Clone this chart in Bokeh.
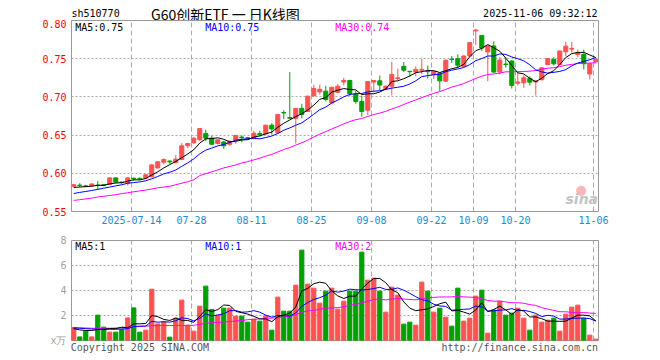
import numpy as np
import pandas as pd
from bokeh.plotting import figure
from bokeh.models import Range1d, FixedTicker, Label, ColumnDataSource, PrintfTickFormatter
from bokeh.layouts import column
from bokeh.embed import file_html
from bokeh.resources import INLINE

# ---------------- data ----------------
tick_index = [10, 20, 30, 40, 50, 60, 67, 74, 87]
tick_labels = ["2025-07-14", "07-28", "08-11", "08-25", "09-08", "09-22", "10-09", "10-20", "11-06"]

opens = [
    0.583, 0.5845, 0.5835, 0.584, 0.5845, 0.585, 0.5855, 0.594, 0.5885, 0.587,
    0.5935, 0.5935, 0.5935, 0.5955, 0.607, 0.6145, 0.616, 0.614, 0.618, 0.636,
    0.640, 0.644, 0.652, 0.646, 0.639, 0.641, 0.638, 0.6435, 0.6475, 0.6465,
    0.6455, 0.652, 0.6515, 0.663, 0.653, 0.6795, 0.673, 0.672, 0.685, 0.681,
    0.7015, 0.7065, 0.7075, 0.692, 0.706, 0.7195, 0.7215, 0.704, 0.694, 0.6825,
    0.7195, 0.721, 0.711, 0.714, 0.724, 0.740, 0.7335, 0.7325, 0.735, 0.7335,
    0.729, 0.731, 0.7206, 0.7495, 0.750, 0.740, 0.7535, 0.7865, 0.7805, 0.7588,
    0.7667, 0.7325, 0.743, 0.747, 0.718, 0.7185, 0.7241, 0.7195, 0.7225, 0.7424,
    0.749, 0.7424, 0.759, 0.7625, 0.7555, 0.7555, 0.730, 0.746]
highs = [
    0.586, 0.587, 0.585, 0.587, 0.590, 0.586, 0.595, 0.5945, 0.589, 0.595,
    0.5945, 0.5945, 0.599, 0.612, 0.616, 0.6195, 0.617, 0.624, 0.6395, 0.640,
    0.647, 0.659, 0.657, 0.649, 0.6445, 0.6425, 0.6425, 0.6505, 0.6495, 0.6475,
    0.6555, 0.6555, 0.6635, 0.6655, 0.6775, 0.6825, 0.7325, 0.6855, 0.691, 0.7015,
    0.716, 0.716, 0.7145, 0.7135, 0.717, 0.725, 0.7225, 0.708, 0.7015, 0.721,
    0.7215, 0.728, 0.7145, 0.746, 0.737, 0.7455, 0.734, 0.740, 0.750, 0.741,
    0.7335, 0.732, 0.749, 0.7535, 0.7555, 0.7545, 0.772, 0.789, 0.781, 0.767,
    0.7728, 0.752, 0.752, 0.748, 0.7316, 0.7285, 0.727, 0.722, 0.739, 0.751,
    0.752, 0.7605, 0.772, 0.772, 0.762, 0.762, 0.7445, 0.7515]
lows = [
    0.582, 0.582, 0.582, 0.583, 0.578, 0.583, 0.5845, 0.587, 0.586, 0.584,
    0.590, 0.591, 0.593, 0.5945, 0.6065, 0.612, 0.6125, 0.613, 0.617, 0.633,
    0.6385, 0.6425, 0.642, 0.6375, 0.6375, 0.632, 0.636, 0.6385, 0.6405, 0.6445,
    0.6445, 0.648, 0.650, 0.6505, 0.652, 0.671, 0.6715, 0.639, 0.672, 0.680,
    0.700, 0.703, 0.694, 0.691, 0.705, 0.715, 0.701, 0.691, 0.674, 0.676,
    0.706, 0.709, 0.709, 0.702, 0.722, 0.7325, 0.727, 0.727, 0.730, 0.724,
    0.7235, 0.7075, 0.720, 0.7445, 0.739, 0.739, 0.7525, 0.768, 0.760, 0.7206,
    0.7315, 0.7294, 0.7382, 0.711, 0.715, 0.7118, 0.715, 0.7018, 0.7215, 0.7415,
    0.741, 0.742, 0.7533, 0.7577, 0.752, 0.7359, 0.7228, 0.744]
closes = [
    0.585, 0.584, 0.583, 0.586, 0.584, 0.584, 0.594, 0.5885, 0.588, 0.594,
    0.593, 0.593, 0.598, 0.611, 0.615, 0.618, 0.615, 0.6185, 0.636, 0.639,
    0.646, 0.6585, 0.646, 0.638, 0.644, 0.636, 0.642, 0.6495, 0.6465, 0.646,
    0.6525, 0.6505, 0.663, 0.658, 0.677, 0.679, 0.672, 0.685, 0.677, 0.701,
    0.711, 0.710, 0.6965, 0.7125, 0.714, 0.7215, 0.704, 0.694, 0.681, 0.720,
    0.7215, 0.7155, 0.714, 0.7295, 0.725, 0.735, 0.733, 0.736, 0.736, 0.733,
    0.7335, 0.721, 0.748, 0.749, 0.7415, 0.7535, 0.771, 0.7875, 0.764, 0.7667,
    0.7325, 0.7482, 0.7424, 0.715, 0.7195, 0.725, 0.7193, 0.7208, 0.738, 0.750,
    0.7433, 0.760, 0.7664, 0.7635, 0.758, 0.7433, 0.7433, 0.749]
volumes = [
    1.04, 0.29, 0.75, 0.29, 2.03, 1.07, 0.67, 0.67, 0.90, 1.81,
    2.61, 0.67, 0.83, 4.10, 1.33, 1.49, 0.27, 1.79, 3.23, 1.23,
    0.75, 2.75, 4.35, 2.48, 2.03, 2.59, 2.59, 1.95, 1.95, 1.47,
    1.71, 1.55, 1.95, 0.83, 3.47, 2.35, 2.35, 4.43, 7.23, 4.51,
    4.19, 2.99, 3.95, 4.19, 2.51, 3.15, 3.95, 3.95, 7.07, 4.83,
    4.99, 3.95, 2.27, 4.27, 3.63, 1.31, 1.47, 1.23, 4.67, 3.95,
    2.27, 2.59, 1.87, 1.15, 4.19, 1.55, 1.79, 3.55, 4.03, 0.59,
    2.43, 3.15, 2.03, 2.19, 2.59, 1.79, 0.83, 2.03, 1.47, 1.63,
    1.79, 0.75, 2.11, 2.67, 2.83, 1.79, 0.43, 0.11]

# moving-average values before the window is full (earlier days are not shown)
ma5_early = [0.5815, 0.582, 0.5825, 0.583]
ma10_early = [0.5735, 0.575, 0.5762, 0.5775, 0.579, 0.5805, 0.582, 0.5835, 0.585]
ma30_early = [0.5645, 0.5655, 0.5665, 0.5675, 0.569, 0.570, 0.571, 0.572, 0.5735, 0.5745,
              0.5758, 0.577, 0.578, 0.5795, 0.581, 0.582, 0.583, 0.585, 0.587, 0.589,
              0.5915, 0.597, 0.5995, 0.602, 0.6045, 0.607, 0.609, 0.611, 0.6135]
vol_ma5_early = [0.95, 0.85, 0.80, 0.80]
vol_ma10_early = [1.00, 0.98, 0.95, 0.92, 0.90, 0.90, 0.90, 0.90, 0.92]
vol_ma30_early = [1.04, 1.02, 1.00, 0.98, 0.97, 0.97, 0.98, 1.00, 1.03, 1.06,
                  1.09, 1.12, 1.15, 1.18, 1.20, 1.20, 1.20, 1.20, 1.20, 1.20,
                  1.22, 1.30, 1.38, 1.42, 1.45, 1.48, 1.52, 1.56, 1.60]

header_left = "sh510770"
header_title = "G60创新ETF 一 日K线图"
header_time = "2025-11-06 09:32:12"
footer_left = "Copyright 2025 SINA.COM"
footer_right = "http://finance.sina.com.cn"

# ---------------- styles ----------------
RED = "#fa5353"
GREEN = "#00a000"
GRID = "#aaaaaa"
MONO = "DejaVu Sans Mono"
OFFSET = 0.38  # candle centre sits a little right of its date line
W = 660


def moving_avg(vals, n, early):
    s = pd.Series(vals).rolling(n).mean().to_numpy()
    s[:n - 1] = early
    return s


n = len(closes)
idx = np.arange(n)
colors = [RED if c >= o else GREEN for o, c in zip(opens, closes)]
src = ColumnDataSource(dict(
    x=idx + OFFSET, open=opens, close=closes, high=highs, low=lows,
    top=[max(o, c) for o, c in zip(opens, closes)],
    bottom=[min(o, c) for o, c in zip(opens, closes)],
    vol=volumes, color=colors,
    ma5=moving_avg(closes, 5, ma5_early), ma10=moving_avg(closes, 10, ma10_early),
    ma30=moving_avg(closes, 30, ma30_early),
    vma5=moving_avg(volumes, 5, vol_ma5_early), vma10=moving_avg(volumes, 10, vol_ma10_early),
    vma30=moving_avg(volumes, 30, vol_ma30_early),
))

xr = Range1d(0, 87.83)


def style(p):
    p.background_fill_color = "white"
    p.border_fill_color = "white"
    p.outline_line_color = "#999999"
    p.outline_line_width = 1
    for ax in [p.xaxis[0], p.yaxis[0]]:
        ax.axis_line_color = None
        ax.major_tick_line_color = None
        ax.minor_tick_line_color = None
        ax.major_tick_out = 0
        ax.major_tick_in = 0
        ax.major_label_text_font = MONO
        ax.major_label_text_font_size = "10px"
    p.xgrid.ticker = FixedTicker(ticks=tick_index)
    p.xgrid.grid_line_color = GRID
    p.xgrid.grid_line_dash = "5 3"


def add_label(p, text, x, y, color="black", align="left", font=MONO, size="10px", style_="normal"):
    p.add_layout(Label(x=x, y=y, x_units="screen", y_units="screen", text=text,
                       text_color=color, text_align=align, text_baseline="middle",
                       text_font=font, text_font_size=size, text_font_style=style_))


# ---------------- header row (its frame lines up with the panels below) ----------------
ph = figure(width=W, height=26, output_backend="svg", toolbar_location=None,
            x_axis_location=None, y_axis_location=None,
            min_border_left=71, min_border_right=62, min_border_top=0, min_border_bottom=0,
            x_range=Range1d(0, 1), y_range=Range1d(0, 1))
ph.outline_line_color = None
ph.grid.visible = False
add_label(ph, header_left, 0, 13)
add_label(ph, header_title, 79.5, 13, font="Noto Sans CJK SC", size="14px")
add_label(ph, header_time, 526, 13, align="right")

# ---------------- price panel (pulled up so its frame starts at y=20) ----------------
p1 = figure(width=W, height=211, output_backend="svg", toolbar_location=None,
            x_range=xr, y_range=Range1d(0.55, 0.80),
            min_border_left=71, min_border_right=62, min_border_top=1, min_border_bottom=19)
p1.margin = (-7, 0, 0, 0)
style(p1)
p1.border_fill_alpha = 0
p1.yaxis.ticker = FixedTicker(ticks=[0.55, 0.60, 0.65, 0.70, 0.75, 0.80])
p1.yaxis.formatter = PrintfTickFormatter(format="%.2f")
p1.yaxis.major_label_text_color = "#ff0000"
p1.yaxis.major_label_standoff = 5
p1.ygrid.ticker = FixedTicker(ticks=[0.60, 0.65, 0.70, 0.75])
p1.ygrid.grid_line_color = GRID
p1.ygrid.grid_line_dash = "2 2"
p1.xaxis.ticker = FixedTicker(ticks=tick_index)
p1.xaxis.major_label_overrides = {t: l for t, l in zip(tick_index, tick_labels)}
p1.xaxis.major_label_text_color = "#1a8ad8"
p1.xaxis.major_label_standoff = 4

p1.segment(x0="x", x1="x", y0="low", y1="high", color="color", line_width=1, source=src)
p1.vbar(x="x", width=0.68, top="top", bottom="bottom", fill_color="color",
        line_color="color", line_width=1, source=src)
p1.line("x", "ma30", color="#ff00ff", line_width=1, source=src)
p1.line("x", "ma10", color="#0000ff", line_width=1, source=src)
p1.line("x", "ma5", color="black", line_width=1, source=src)

add_label(p1, "MA5:%.2f" % src.data["ma5"][-1], 3.7, 184.5)
add_label(p1, "MA10:%.2f" % src.data["ma10"][-1], 133.7, 184.5, color="#0000ff")
add_label(p1, "MA30:%.2f" % src.data["ma30"][-1], 263.7, 184.5, color="#ff00ff")
add_label(p1, "●", 504, 22, color="#f7b8b8", font="DejaVu Sans", size="13px")
add_label(p1, "sina", 494, 13, color="#c4c4c4", font="DejaVu Sans", size="14px", style_="bold italic")

# ---------------- volume panel ----------------
p2 = figure(width=W, height=130, output_backend="svg", toolbar_location=None,
            x_range=xr, y_range=Range1d(0, 8),
            min_border_left=71, min_border_right=62, min_border_top=10, min_border_bottom=20)
style(p2)
p2.yaxis.ticker = FixedTicker(ticks=[0, 2, 4, 6, 8])
p2.yaxis.major_label_overrides = {0: "x万"}
p2.yaxis.major_label_text_color = "#a0a0a0"
p2.yaxis.major_label_standoff = 5
p2.ygrid.ticker = FixedTicker(ticks=[2, 4, 6])
p2.ygrid.grid_line_color = GRID
p2.ygrid.grid_line_dash = "2 2"
# footer texts sit under the volume panel, as labels of its bottom axis
foot_pos = [11.4, 74.7]
p2.xaxis.ticker = FixedTicker(ticks=foot_pos)
p2.xaxis.major_label_overrides = {foot_pos[0]: footer_left, foot_pos[1]: footer_right}
p2.xaxis.major_label_text_color = "#555555"
p2.xaxis.major_label_standoff = 1

p2.vbar(x="x", width=0.7, top="vol", bottom=0, fill_color="color", line_color="color",
        line_width=1, source=src)
p2.line("x", "vma30", color="#ff00ff", line_width=1, source=src)
p2.line("x", "vma10", color="#0000ff", line_width=1, source=src)
p2.line("x", "vma5", color="black", line_width=1, source=src)

add_label(p2, "MA5:%d" % int(src.data["vma5"][-1]), 3.7, 94)
add_label(p2, "MA10:%d" % int(src.data["vma10"][-1]), 133.7, 94, color="#0000ff")
add_label(p2, "MA30:%d" % int(src.data["vma30"][-1]), 263.7, 94, color="#ff00ff")

layout = column(ph, p1, p2, spacing=0)
open("out.html", "w").write(file_html(layout, INLINE))
